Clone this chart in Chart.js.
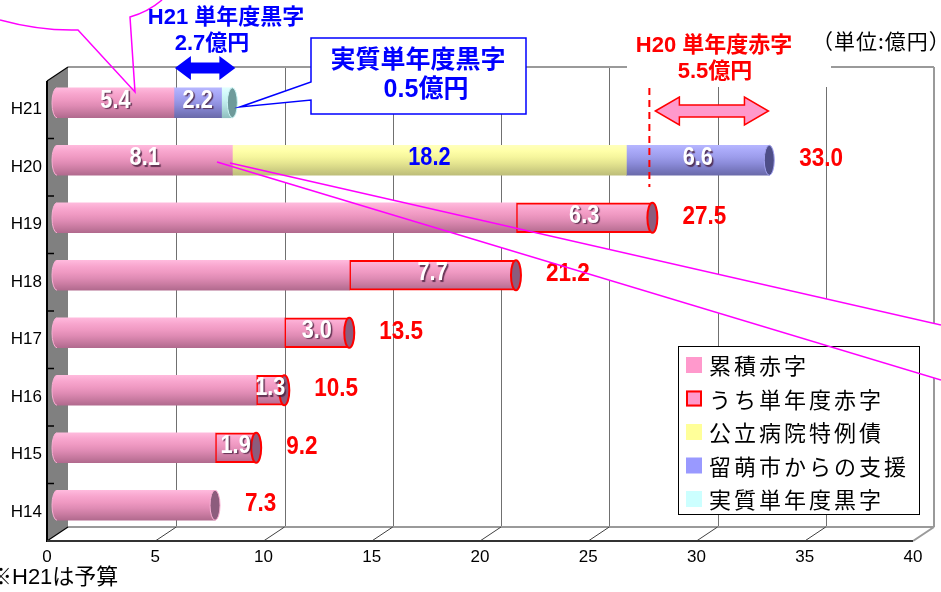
<!DOCTYPE html>
<html><head><meta charset="utf-8">
<script src="https://cdn.jsdelivr.net/npm/chart.js@4.4.0/dist/chart.umd.min.js"></script>
<style>html,body{margin:0;padding:0;background:#fff;overflow:hidden}canvas{display:block}</style>
</head><body>
<canvas id="c" width="941" height="592"></canvas>
<script>
// ---------- data ----------
const categories = ['H21','H20','H19','H18','H17','H16','H15','H14'];
const seriesNames = ['累積赤字','うち単年度赤字','公立病院特例債','留萌市からの支援','実質単年度黒字'];
const cumulativeDeficit = [5.4, 8.1, 21.2, 13.5, 10.5, 9.2, 7.3, 7.3];
const annualDeficit     = [null, null, 6.3, 7.7, 3.0, 1.3, 1.9, null];
const hospitalBond      = [null, 18.2, null, null, null, null, null, null];
const citySupport       = [2.2, 6.6, null, null, null, null, null, null];
const realSurplus       = [0.5, null, null, null, null, null, null, null];
const totalLabels       = [null, '33.0', '27.5', '21.2', '13.5', '10.5', '9.2', '7.3'];
const cumulativeLabelRows = ['H21','H20'];
const xMin = 0, xMax = 40, xStep = 5;
const h21SurplusRange = [5.4, 8.1];   // H21 単年度黒字 2.7億円
const h20DeficitRange = [27.5, 33.0]; // H20 単年度赤字 5.5億円

// ---------- styles ----------
const LATIN = '"Liberation Sans", "Noto Sans CJK JP", sans-serif';
const JP = '"Noto Sans CJK JP", "Liberation Sans", sans-serif';
const DEPTH = {dx: 21, dy: -14};
const SHIFT = {dx: 10, dy: -7};
const CAP_RX = 5, BAR_H = 30;
const STYLE = {
  pink:  {stops:['#FFBADD','#F8A6CE','#EF99C2','#DF8BB4','#C97BA1','#B16A8E'], cap:'#8C5C7D', edge:'#F9AED3'},
  red:   {stops:['#FFBADD','#F8A6CE','#EF99C2','#DF8BB4','#C97BA1','#B16A8E'], cap:'#8C5C7D', edge:'#FF0000'},
  yellow:{stops:['#FFFFBC','#FFFFA8','#F5F59C','#E5E590','#D1D184','#BDBD79'], cap:'#9A9A60', edge:'#F2F2A4'},
  blue:  {stops:['#B6B6FF','#A8A8F7','#9C9CEB','#8C8CDA','#7A7AC2','#6A6AAA'], cap:'#4E4E88', edge:'#A0A0EE'},
  cyan:  {stops:['#E2FFFF','#D2FAFA','#C6F1F1','#B6E3E3','#A2D1D1','#90BFBF'], cap:'#6E9A9A', edge:'#CBF5F5'}
};
const legendColors = ['#FF99CC','#FF99CC','#FFFF99','#9999FF','#CCFFFF'];

function makeGrad(ctx, yc, stops) {
  const g = ctx.createLinearGradient(0, yc - BAR_H/2, 0, yc + BAR_H/2);
  stops.forEach((s, i) => g.addColorStop(i / (stops.length - 1), s));
  return g;
}
function cylFill(stops) {
  return (c) => {
    const chart = c.chart;
    if (!chart.chartArea || c.type !== 'data') return stops[2];
    return makeGrad(chart.ctx, chart.scales.y.getPixelForValue(c.dataIndex), stops);
  };
}
function drawText(ctx, text, x, y, o) {
  ctx.save();
  ctx.translate(x, y);
  ctx.scale(o.sx || 1, 1);
  ctx.font = o.font;
  ctx.fillStyle = o.color;
  ctx.textAlign = o.align || 'center';
  ctx.textBaseline = 'middle';
  if (o.letterSpacing) ctx.letterSpacing = o.letterSpacing;
  if (o.shadow) { ctx.shadowColor = 'rgba(70,30,60,0.8)'; ctx.shadowOffsetX = 1.5; ctx.shadowOffsetY = 1.5; ctx.shadowBlur = 1; }
  ctx.fillText(text, 0, 0);
  ctx.restore();
}
function line(ctx, x1, y1, x2, y2) { ctx.beginPath(); ctx.moveTo(x1, y1); ctx.lineTo(x2, y2); ctx.stroke(); }
function dblArrow(ctx, x1, x2, yc, H, shaft, head, fill, stroke) {
  ctx.beginPath();
  ctx.moveTo(x1, yc);
  ctx.lineTo(x1 + head, yc - H/2); ctx.lineTo(x1 + head, yc - shaft/2);
  ctx.lineTo(x2 - head, yc - shaft/2); ctx.lineTo(x2 - head, yc - H/2);
  ctx.lineTo(x2, yc);
  ctx.lineTo(x2 - head, yc + H/2); ctx.lineTo(x2 - head, yc + shaft/2);
  ctx.lineTo(x1 + head, yc + shaft/2); ctx.lineTo(x1 + head, yc + H/2);
  ctx.closePath();
  ctx.fillStyle = fill; ctx.fill();
  if (stroke) { ctx.strokeStyle = stroke; ctx.lineWidth = 1.5; ctx.stroke(); }
}

const seriesDefs = [
  {data: cumulativeDeficit, style: 'pink', labelColor: '#FFFFFF', shadow: true, rows: cumulativeLabelRows},
  {data: annualDeficit, style: 'red', labelColor: '#FFFFFF', shadow: true},
  {data: hospitalBond, style: 'yellow', labelColor: '#0000FF', shadow: false},
  {data: citySupport, style: 'blue', labelColor: '#FFFFFF', shadow: true},
  {data: realSurplus, style: 'cyan', labelColor: null}
];
const datasets = seriesDefs.map((d, i) => ({
  label: seriesNames[i],
  data: d.data,
  backgroundColor: cylFill(STYLE[d.style].stops),
  borderColor: d.style === 'red' ? '#FF0000' : 'rgba(0,0,0,0)',
  borderWidth: d.style === 'red' ? {top: 2, bottom: 2, left: 2, right: 0} : 0,
  borderSkipped: false,
  barThickness: BAR_H,
  clip: false,
  _style: d.style, _labelColor: d.labelColor, _shadow: d.shadow, _rows: d.rows
}));

const scene = {
  id: 'scene',
  beforeDatasetsDraw(chart) {
    const {ctx, chartArea: a, scales: {x}} = chart;
    ctx.save();
    // left wall
    ctx.fillStyle = '#808080';
    ctx.beginPath();
    ctx.moveTo(a.left, a.top); ctx.lineTo(a.left + DEPTH.dx, a.top + DEPTH.dy);
    ctx.lineTo(a.left + DEPTH.dx, a.bottom + DEPTH.dy); ctx.lineTo(a.left, a.bottom);
    ctx.closePath(); ctx.fill();
    // back wall grid
    ctx.strokeStyle = '#707070'; ctx.lineWidth = 1;
    for (let v = xMin + xStep; v < xMax; v += xStep) {
      const px = Math.round(x.getPixelForValue(v) + DEPTH.dx) + 0.5;
      line(ctx, px, a.top + DEPTH.dy, px, a.bottom + DEPTH.dy);
    }
    ctx.strokeStyle = '#9a9a9a'; ctx.lineWidth = 2;
    line(ctx, a.left + DEPTH.dx, a.top + DEPTH.dy, a.right + DEPTH.dx, a.top + DEPTH.dy);
    line(ctx, a.right + DEPTH.dx, a.top + DEPTH.dy, a.right + DEPTH.dx, a.bottom + DEPTH.dy);
    line(ctx, a.left + DEPTH.dx, a.bottom + DEPTH.dy, a.right + DEPTH.dx, a.bottom + DEPTH.dy);
    line(ctx, a.right, a.bottom, a.right + DEPTH.dx, a.bottom + DEPTH.dy);
    // floor diagonals
    ctx.strokeStyle = '#404040'; ctx.lineWidth = 1;
    for (let v = xMin + xStep; v < xMax; v += xStep) {
      const px = x.getPixelForValue(v);
      line(ctx, px, a.bottom, px + DEPTH.dx, a.bottom + DEPTH.dy);
    }
    // wall edges
    ctx.strokeStyle = '#000'; ctx.lineWidth = 1.2;
    line(ctx, a.left, a.top, a.left + DEPTH.dx, a.top + DEPTH.dy);
    line(ctx, a.left, a.bottom, a.left + DEPTH.dx, a.bottom + DEPTH.dy);
    ctx.lineWidth = 2;
    line(ctx, a.left, a.top, a.left, a.bottom + 1);
    ctx.strokeStyle = '#333';
    line(ctx, a.left, a.bottom, a.right, a.bottom);
    // category ticks on wall
    ctx.strokeStyle = '#000'; ctx.lineWidth = 1.5;
    const n = categories.length;
    for (let k = 1; k < n; k++) {
      const yy = a.top + k * (a.bottom - a.top) / n;
      line(ctx, a.left, yy, a.left + 7, yy);
    }
    // callout wedge (white fill behind bars)
    ctx.fillStyle = '#fff';
    ctx.beginPath();
    ctx.moveTo(217, 162); ctx.lineTo(230, 163); ctx.lineTo(941, 325); ctx.lineTo(941, 380); ctx.closePath();
    ctx.fill();
    ctx.restore();
    ctx.save();
    ctx.translate(SHIFT.dx, SHIFT.dy);
  },
  afterDatasetsDraw(chart) {
    const {ctx, chartArea: a, scales: {x}} = chart;
    const ds = chart.data.datasets;
    // caps (translated space)
    categories.forEach((cat, i) => {
      let last = -1;
      ds.forEach((d, di) => { if (d.data[i] != null) last = di; });
      const first = chart.getDatasetMeta(0).data[i];
      ctx.save();
      ctx.beginPath();
      ctx.ellipse(first.base, first.y, CAP_RX, BAR_H/2, 0, Math.PI/2, Math.PI*1.5);
      ctx.closePath();
      ctx.fillStyle = makeGrad(ctx, first.y, STYLE.pink.stops); ctx.fill();
      ctx.beginPath();
      ctx.ellipse(first.base, first.y, CAP_RX, BAR_H/2, 0, Math.PI/2, Math.PI*1.5);
      ctx.strokeStyle = STYLE.pink.edge; ctx.lineWidth = 1; ctx.stroke();
      const el = chart.getDatasetMeta(last).data[i];
      const st = STYLE[ds[last]._style];
      ctx.beginPath();
      ctx.ellipse(el.x, el.y, CAP_RX, BAR_H/2, 0, 0, Math.PI*2);
      ctx.fillStyle = st.cap; ctx.fill();
      ctx.strokeStyle = st.edge; ctx.lineWidth = ds[last]._style === 'red' ? 2 : 1; ctx.stroke();
      ctx.restore();
    });
    // segment labels
    ds.forEach((d, di) => {
      if (!d._labelColor) return;
      chart.getDatasetMeta(di).data.forEach((el, i) => {
        const v = d.data[i];
        if (v == null) return;
        if (d._rows && !d._rows.includes(categories[i])) return;
        drawText(ctx, v.toFixed(1), (el.x + el.base) / 2, el.y - 2,
          {font: 'bold 25px ' + LATIN, color: d._labelColor, sx: 0.87, shadow: d._shadow});
      });
    });
    // total labels
    categories.forEach((cat, i) => {
      if (!totalLabels[i]) return;
      let last = -1;
      ds.forEach((d, di) => { if (d.data[i] != null) last = di; });
      const el = chart.getDatasetMeta(last).data[i];
      drawText(ctx, totalLabels[i], el.x + 30, el.y - 1,
        {font: 'bold 25px ' + LATIN, color: '#FF0000', sx: 0.9, align: 'left'});
    });
    ctx.restore();

    // ---------- legend ----------
    ctx.save();
    ctx.fillStyle = '#fff'; ctx.fillRect(678, 346, 241, 168);
    ctx.strokeStyle = '#000'; ctx.lineWidth = 1; ctx.strokeRect(678.5, 346.5, 241, 168);
    ds.forEach((d, i) => {
      const yy = 365 + i * 33.5;
      ctx.fillStyle = legendColors[i]; ctx.fillRect(686, yy - 8, 16, 16);
      if (d._style === 'red') { ctx.strokeStyle = '#FF0000'; ctx.lineWidth = 2; ctx.strokeRect(687, yy - 7, 14, 14); }
      drawText(ctx, d.label, 709, yy + 1, {font: '22px ' + JP, color: '#000', align: 'left', letterSpacing: '3px'});
    });
    ctx.restore();

    // ---------- callout lines ----------
    ctx.save();
    ctx.strokeStyle = '#FF00FF'; ctx.lineWidth = 1.5;
    line(ctx, 230, 163, 941, 325);
    line(ctx, 217, 162, 941, 380);
    ctx.beginPath();
    ctx.moveTo(0, 20); ctx.quadraticCurveTo(40, 31, 78, 30); ctx.lineTo(135, 92); ctx.lineTo(130, 17);
    ctx.quadraticCurveTo(148, 12, 162, 0);
    ctx.stroke();
    ctx.restore();

    // ---------- annotations ----------
    ctx.save();
    const bx = v => x.getPixelForValue(v) + SHIFT.dx;
    drawText(ctx, 'H21 単年度黒字', 226, 18, {font: 'bold 22px ' + LATIN, color: '#0000FF'});
    drawText(ctx, '2.7億円', 212, 44, {font: 'bold 22px ' + LATIN, color: '#0000FF'});
    dblArrow(ctx, bx(h21SurplusRange[0]) + 1, bx(h21SurplusRange[1]) + 3, 68, 24, 11, 16, '#0000FF', null);
    ctx.beginPath();
    ctx.moveTo(311, 38); ctx.lineTo(526, 38); ctx.lineTo(526, 114); ctx.lineTo(311, 114);
    ctx.lineTo(311, 100); ctx.lineTo(240, 107); ctx.lineTo(311, 82); ctx.closePath();
    ctx.fillStyle = '#fff'; ctx.fill();
    ctx.strokeStyle = '#0000FF'; ctx.lineWidth = 1.5; ctx.stroke();
    drawText(ctx, '実質単年度黒字', 418, 61, {font: 'bold 25px ' + LATIN, color: '#0000FF'});
    drawText(ctx, '0.5億円', 426, 90, {font: 'bold 25px ' + LATIN, color: '#0000FF'});
    ctx.fillStyle = '#fff'; ctx.fillRect(627, 28, 204, 59);
    drawText(ctx, 'H20 単年度赤字', 714, 46, {font: 'bold 22px ' + LATIN, color: '#FF0000'});
    drawText(ctx, '5.5億円', 715, 72, {font: 'bold 22px ' + LATIN, color: '#FF0000'});
    ctx.strokeStyle = '#FF0000'; ctx.lineWidth = 2; ctx.setLineDash([7, 5]);
    const dxp = bx(h20DeficitRange[0]) - 3;
    line(ctx, dxp, 88, dxp, 187);
    ctx.setLineDash([]);
    dblArrow(ctx, bx(h20DeficitRange[0]) + 3, bx(h20DeficitRange[1]) - 3, 111, 28, 12, 24, '#FF99CC', '#FF0000');
    drawText(ctx, '（単位:億円）', 812, 41, {font: '21px ' + JP, color: '#000', align: 'left', letterSpacing: '1px'});
    drawText(ctx, '※H21は予算', -10, 578, {font: '22px ' + LATIN, color: '#000', align: 'left'});
    ctx.restore();
  }
};

new Chart(document.getElementById('c'), {
  type: 'bar',
  data: {labels: categories, datasets},
  options: {
    indexAxis: 'y',
    responsive: false,
    animation: false,
    devicePixelRatio: 1,
    events: [],
    layout: {padding: {top: 81, right: 28, bottom: 0, left: 0}},
    plugins: {legend: {display: false}, tooltip: {enabled: false}},
    scales: {
      x: {
        stacked: true, min: xMin, max: xMax,
        ticks: {stepSize: xStep, color: '#000', font: {family: LATIN, size: 17}, padding: 6, maxRotation: 0},
        grid: {display: false, drawTicks: false, tickLength: 0},
        border: {display: false},
        afterFit: s => { s.height = 51; }
      },
      y: {
        stacked: true,
        ticks: {color: '#000', font: {family: LATIN, size: 17}, padding: 5},
        grid: {display: false, drawTicks: false, tickLength: 0},
        border: {display: false},
        afterFit: s => { s.width = 47; }
      }
    }
  },
  plugins: [scene]
});
</script>
</body></html>
